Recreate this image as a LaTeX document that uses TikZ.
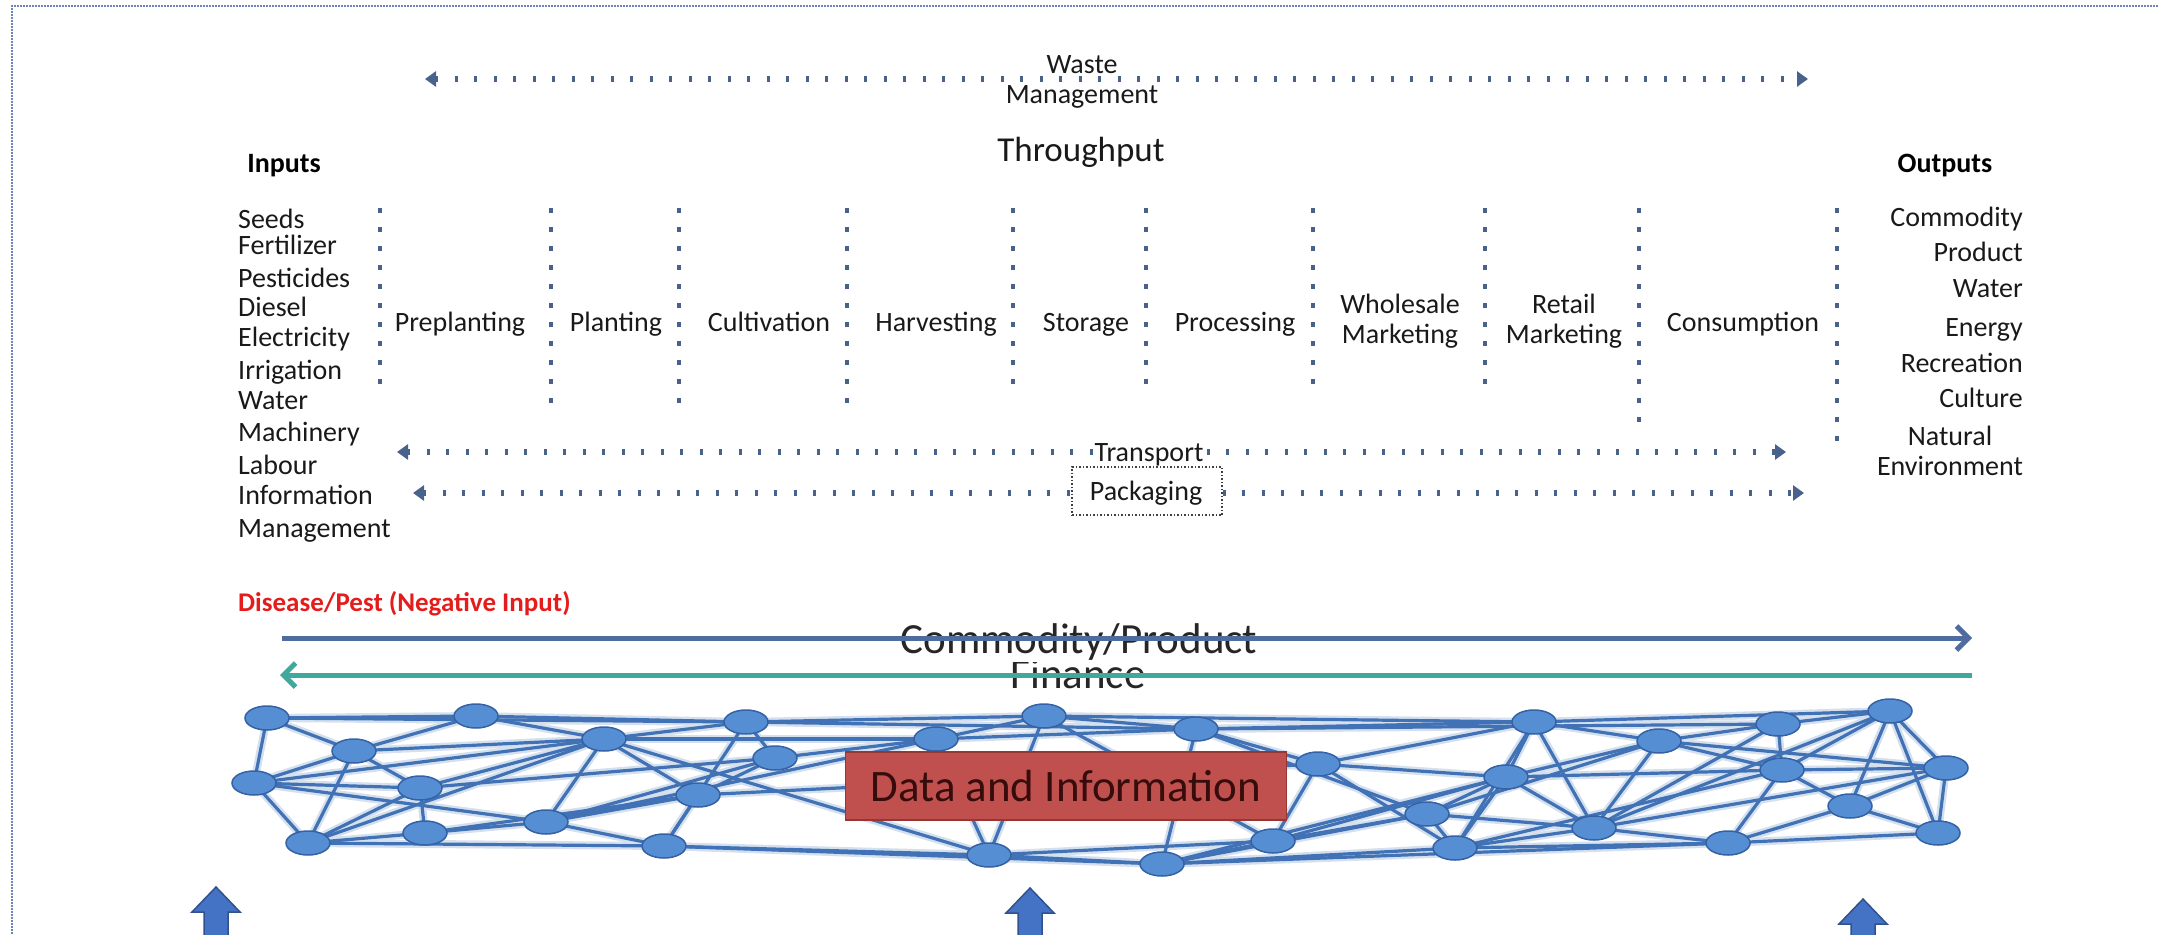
\documentclass[tikz,border=0pt]{standalone}
\usepackage{fontspec}
\setmainfont{Carlito}
\usetikzlibrary{arrows.meta,shapes.geometric}
\definecolor{dotc}{RGB}{72,98,140}
\definecolor{bordc}{RGB}{110,130,190}
\definecolor{comc}{RGB}{78,108,160}
\definecolor{finc}{RGB}{66,168,158}
\definecolor{netc}{RGB}{66,114,182}
\definecolor{nodef}{RGB}{86,142,212}
\definecolor{nodeb}{RGB}{52,98,165}
\definecolor{boxf}{RGB}{192,80,77}
\definecolor{boxd}{RGB}{150,55,52}
\definecolor{boxt}{RGB}{55,12,12}
\definecolor{redt}{RGB}{228,28,28}
\definecolor{blkf}{RGB}{68,114,196}
\definecolor{blkd}{RGB}{47,82,143}
\newcommand{\fsz}[1]{\fontsize{#1}{#1}\selectfont}
\begin{document}
\begin{tikzpicture}[x=1pt,y=-1pt,
  lbl/.style={inner sep=0pt, font=\fsz{28}, text=black!90},
  inlist/.style={lbl, anchor=base west},
  outlist/.style={lbl, anchor=base east},
  stage/.style={lbl, anchor=base},
  stage2/.style={lbl, anchor=center, align=center, font=\fontsize{28}{30}\selectfont},
  head/.style={lbl, anchor=base, font=\bfseries\fsz{28}, text=black},
  vdot/.style={draw=dotc, line width=3.5pt, dash pattern=on 5pt off 14pt},
  hdot/.style={draw=dotc, line width=6pt, dash pattern=on 3pt off 16.5pt},
  tipboth/.style={{Triangle[length=11pt,width=15pt]}-{Triangle[length=11pt,width=15pt]}},
  netglow/.style={draw=netc!22, line width=8pt},
  net/.style={draw=netc, line width=3.2pt},
  nd/.style={ellipse, minimum width=44pt, minimum height=24pt, inner sep=0pt, fill=nodef, draw=nodeb, line width=1.5pt},
  blk/.style={fill=blkf, draw=blkd, line width=1.5pt},
  border/.style={draw=bordc, line width=1.5pt, dash pattern=on 2pt off 1pt}
]
\useasboundingbox (0,0) rectangle (2159,934);
\clip (0,0) rectangle (2159,934);

% border
\coordinate (bl) at (12,940);
\coordinate (tl) at (12,6);
\coordinate (tr) at (2165,6);
\draw[border] (bl) -- (tl) -- (tr);

% waste management
\coordinate (wl) at (425,79);
\coordinate (wr) at (1808,79);
\draw[hdot, tipboth, dotc] (wl) -- (wr);
\node[stage2] (waste) at (1082,82) {Waste\\Management};

\node[lbl, anchor=base, font=\fsz{35}] (thr) at (1081,161) {Throughput};
\node[head] (inputs) at (284,172) {Inputs};
\node[head] (outputs) at (1945,172) {Outputs};

% inputs list
\foreach \t/\y [count=\i] in {Seeds/219, Fertilizer/245, Pesticides/278, Diesel/307, Electricity/337, Irrigation/370, Water/400, Machinery/432, Labour/465, Information/495, Management/528}
  \node[inlist] (in\i) at (238,\y+9) {\t};

% outputs list
\foreach \t/\y [count=\i] in {Commodity/217, Product/252, Water/288, Energy/327, Recreation/363, Culture/398}
  \node[outlist] (out\i) at (2023,\y+9) {\t};
\node[stage2] (natenv) at (1950,451) {Natural\\Environment};

% vertical dotted separators
\foreach \x/\b [count=\i] in {380/397, 551/417, 679/417, 847/417, 1013/397, 1146/397, 1313/397, 1485/397, 1639/432, 1837/450} {
  \coordinate (v\i a) at (\x,208);
  \coordinate (v\i b) at (\x,\b);
  \draw[vdot] (v\i a) -- (v\i b);
}

% stages
\node[stage] (s1) at (460,331) {Preplanting};
\node[stage] (s2) at (616,331) {Planting};
\node[stage] (s3) at (769,331) {Cultivation};
\node[stage] (s4) at (936,331) {Harvesting};
\node[stage] (s5) at (1086,331) {Storage};
\node[stage] (s6) at (1235,331) {Processing};
\node[stage2] (s7) at (1400,321) {Wholesale\\Marketing};
\node[stage2] (s8) at (1564,321) {Retail\\Marketing};
\node[stage] (s9) at (1743,331) {Consumption};

% transport and packaging
\coordinate (tl1) at (397,452);
\coordinate (tr1) at (1786,452);
\draw[hdot, tipboth, dotc] (tl1) -- (tr1);
\coordinate (pl1) at (413,493);
\coordinate (pr1) at (1804,493);
\draw[hdot, tipboth, dotc] (pl1) -- (pr1);
\node[lbl, anchor=base, fill=white, inner sep=1.5pt] (transp) at (1149,461) {Transport};
\node[draw=black!75, line width=1.3pt, dash pattern=on 1.5pt off 2pt, fill=white,
      minimum width=150pt, minimum height=48pt, inner sep=0pt] (packbox) at (1147,491) {};
\node[lbl, anchor=base] (pack) at (1146,500) {Packaging};

% disease
\node[lbl, anchor=base west, font=\bfseries\fsz{27}, text=redt] (dis) at (238,611) {Disease/Pest (Negative Input)};

% finance
\node[lbl, anchor=base, font=\fsz{43}, text=black!85] (fin) at (1078,688) {Finance};
\coordinate (fa) at (280,675);
\coordinate (fb) at (1972,675);
\draw[draw=finc, line width=5pt, -{Straight Barb[length=12pt,width=24pt,line width=5pt]}] (fb) -- (fa);

% commodity / product
\node[anchor=base, font=\fsz{43}, text=black!85, fill=white, inner sep=2pt] (com) at (1079,653) {Commodity/Product};
\coordinate (ca) at (282,638);
\coordinate (cb) at (1972,638);
\draw[draw=comc, line width=5pt, -{Straight Barb[length=12pt,width=24pt,line width=5pt]}] (ca) -- (cb);

% network
\foreach \x/\y [count=\i] in {
 267/718, 476/716, 354/751, 254/783, 420/788, 604/739, 746/722, 775/758, 698/795, 546/822,
 425/833, 308/843, 664/846, 936/739, 1044/716, 1196/729, 1318/764, 989/855, 1162/864, 1273/841,
 1427/814, 1534/722, 1659/741, 1778/724, 1890/711, 1506/777, 1782/770, 1946/768, 1850/806, 1594/828,
 1455/848, 1728/843, 1938/833}
  \coordinate (p\i) at (\x,\y);
\def\edgelist{1/2, 2/7, 7/15, 15/22, 22/25, 1/7, 7/16, 16/24,
 1/3, 1/4, 2/3, 2/6, 3/4, 3/5, 3/12, 3/6, 4/5, 4/6, 4/10, 4/12, 5/6, 5/11, 5/12, 5/8,
 12/11, 12/6, 12/13, 11/10, 11/9, 6/7, 6/9, 6/10, 6/14, 6/18, 7/8, 7/13, 8/9, 8/10, 8/14,
 9/10, 9/13, 9/17, 10/13, 10/14, 13/18, 13/19,
 14/15, 14/18, 14/16, 15/16, 15/18, 15/20, 16/17, 16/19, 16/21, 16/22, 17/20, 17/26, 17/22, 17/31,
 18/19, 18/20, 19/20, 19/21, 19/31, 19/26, 20/21, 20/26, 21/26, 21/31, 21/30, 21/23,
 22/23, 22/26, 22/30, 22/31, 23/24, 23/27, 23/30, 23/26, 23/28, 24/25, 24/27, 24/30,
 25/28, 25/29, 25/27, 25/30, 25/33, 26/30, 26/31, 26/27, 27/28, 27/29, 27/32, 27/31,
 28/29, 28/33, 28/30, 29/33, 29/32, 30/32, 30/31, 31/32, 32/33, 19/32}
\foreach \a/\b in \edgelist { \draw[netglow] (p\a) -- (p\b); }
\foreach \a/\b in \edgelist { \draw[net] (p\a) -- (p\b); }
\foreach \i in {1,...,33} { \node[nd] (n\i) at (p\i) {}; }

% data box
\node[fill=boxf, draw=boxd, line width=1.5pt, minimum width=441pt, minimum height=68pt,
      inner sep=0pt, font=\fsz{45}, text=boxt] (data) at (1066,786) {Data and Information};

% block arrows
\foreach \x/\t [count=\i] in {216/887, 1030/888, 1863/899} {
  \coordinate (ba\i) at (\x,\t);
  \draw[blk] (ba\i) -- ++(24,25) -- ++(-12,0) -- ++(0,40) -- ++(-24,0) -- ++(0,-40) -- ++(-12,0) -- cycle;
}
\end{tikzpicture}
\end{document}
